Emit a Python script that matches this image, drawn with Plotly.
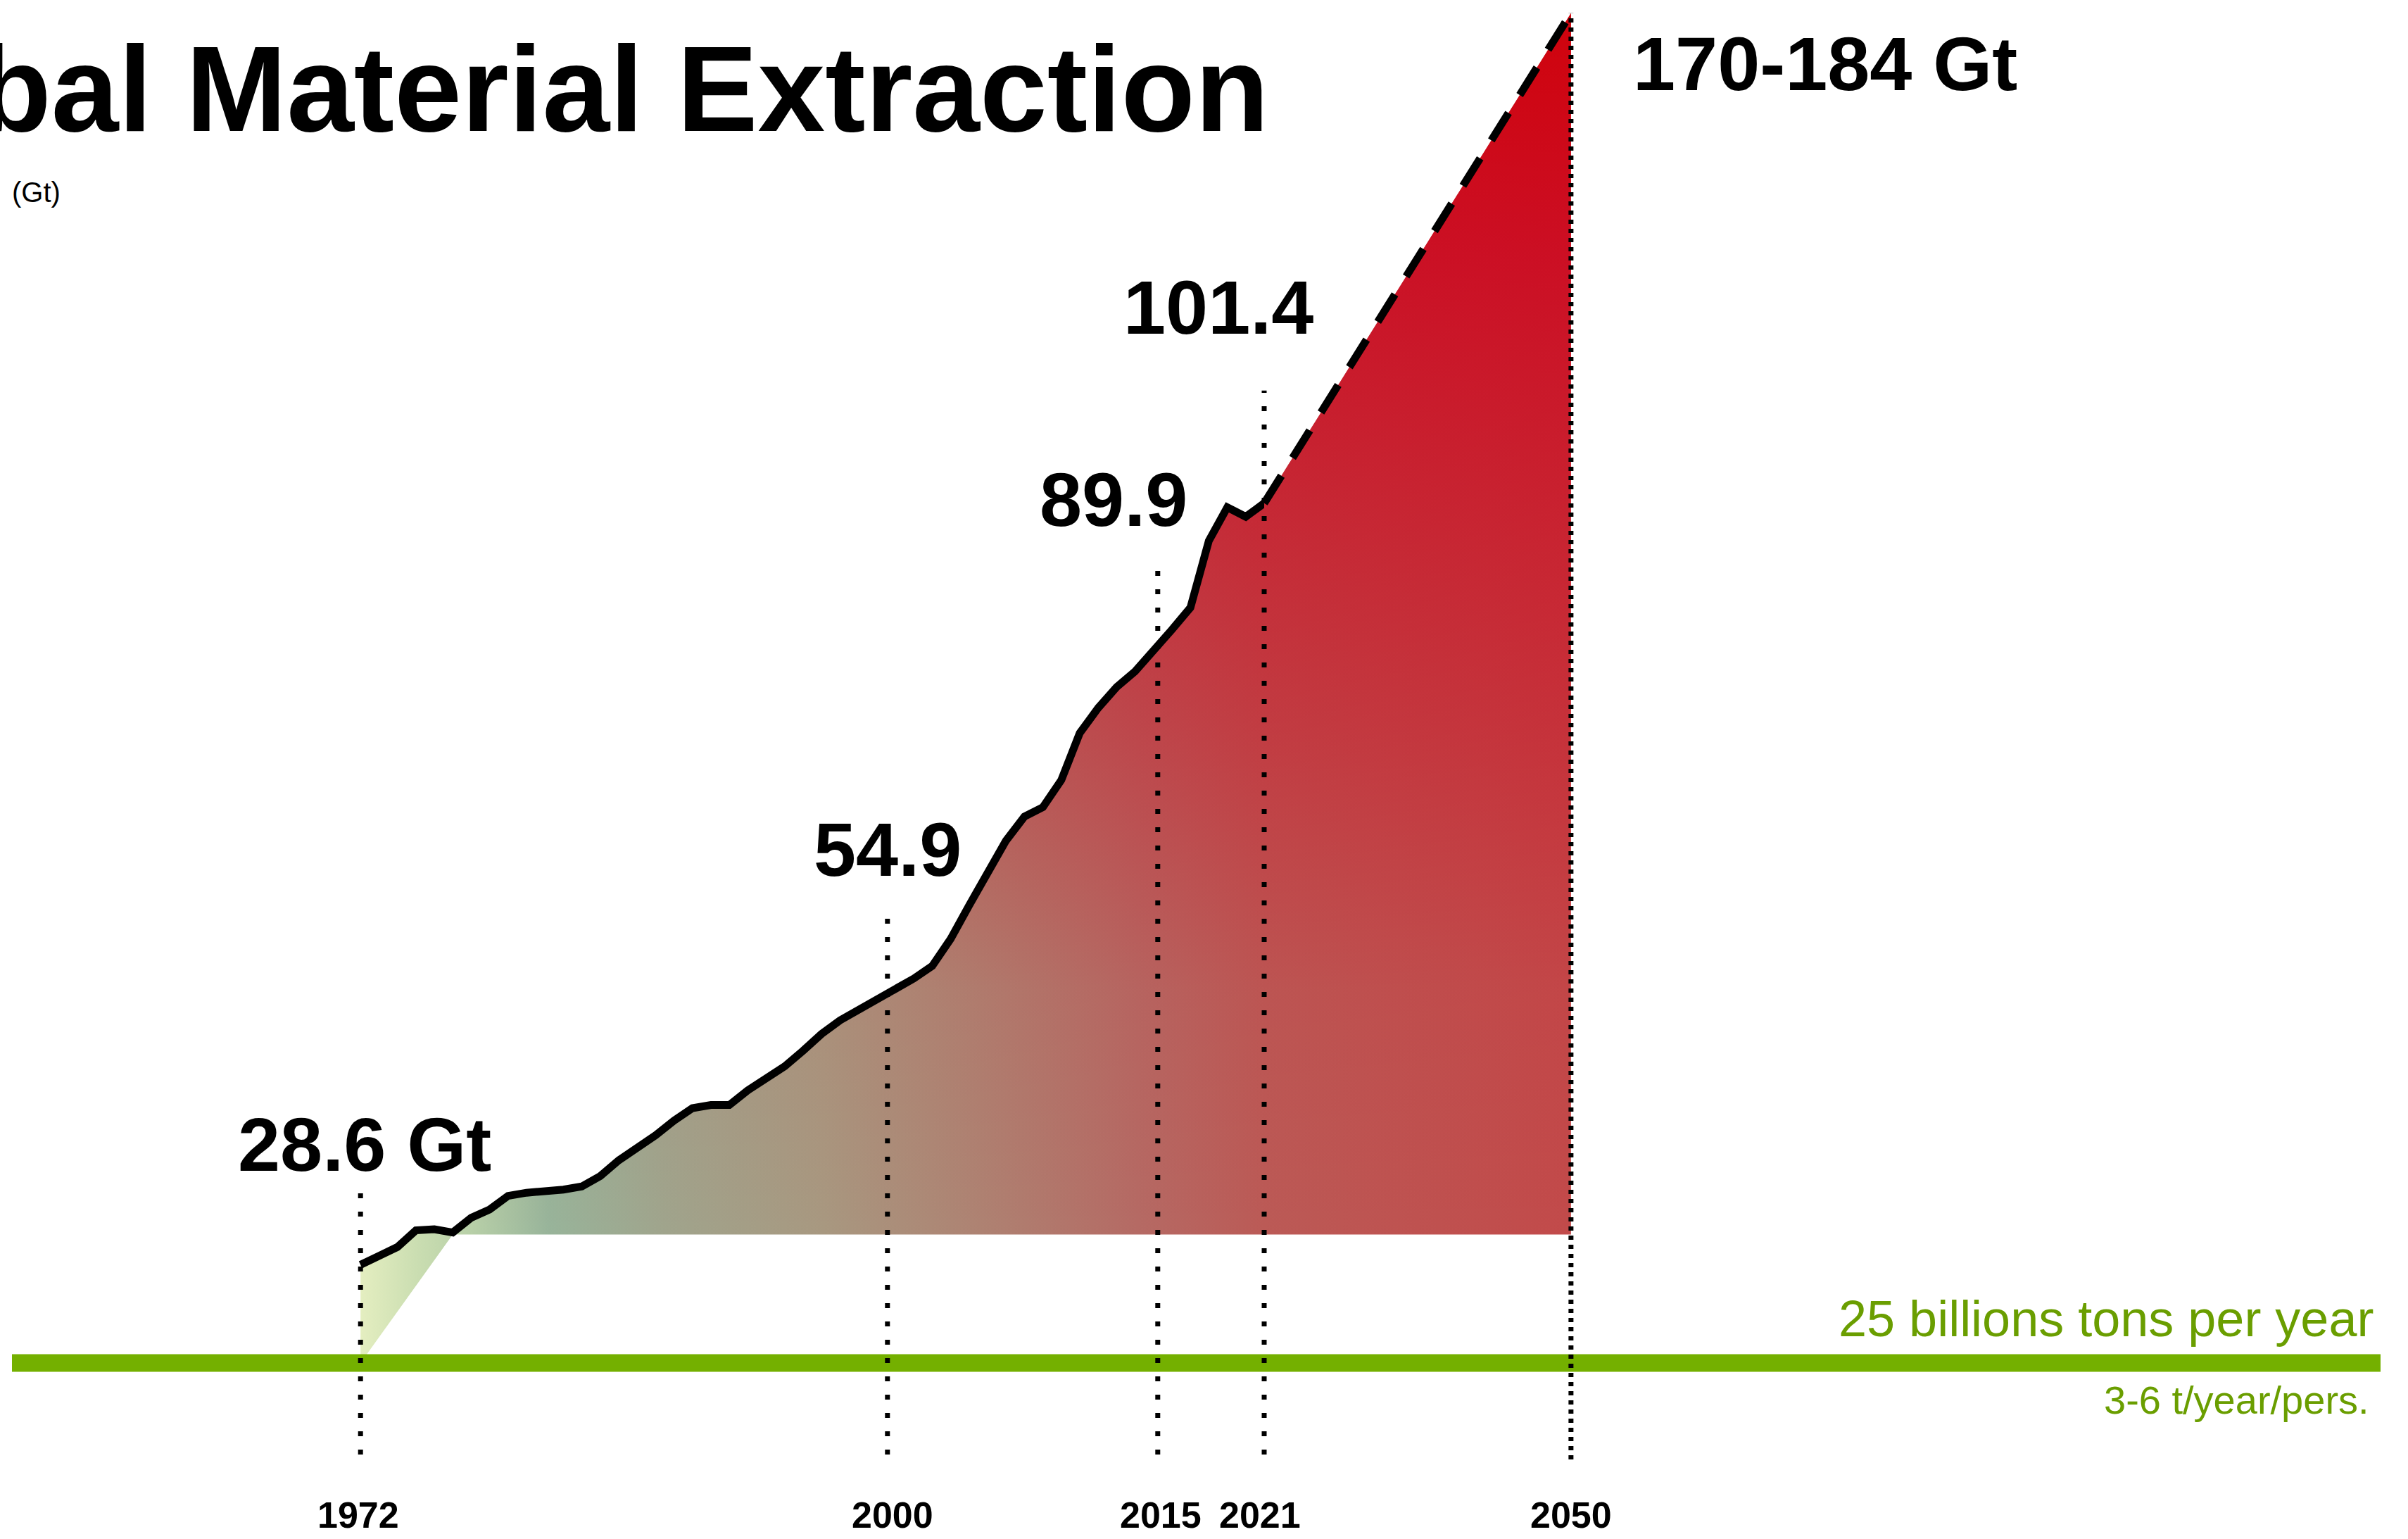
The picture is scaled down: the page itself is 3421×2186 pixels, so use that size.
import plotly.graph_objects as go

# ---------------- data ----------------
YEARS = list(range(1972, 2022))
EXTRACTION_GT = [28.6, 29.4, 30.3, 31.9, 32.0, 31.7, 33.1, 33.9, 35.2, 35.5,
                 35.6, 35.8, 36.1, 37.1, 38.6, 39.7, 41.0, 42.4, 43.6, 43.9,
                 43.9, 45.3, 46.5, 47.6, 49.1, 50.7, 52.0, 53.0, 53.9, 55.0,
                 56.0, 57.2, 59.8, 63.0, 66.1, 69.2, 71.5, 72.4, 75.0, 79.5,
                 81.9, 83.9, 85.4, 87.3, 89.4, 91.5, 97.9, 101.1, 100.2, 101.5]
PROJECTION_YEARS = [2021, 2050]
PROJECTION_GT = [101.5, 148.4]          # drawn end point of the projection
LABEL_YEARS = [1972, 2000, 2015, 2021]
LABEL_TEXTS = ["28.6 Gt", "54.9", "89.9", "101.4"]
PROJECTION_LABEL = "170-184 Gt"
TICK_YEARS = [1972, 2000, 2015, 2021, 2050]
TICK_LABELS = ["1972", "2000", "2015", "2021", "2050"]
LIMIT_GT = 19.2                          # drawn level of the sustainable band
LIMIT_TEXT = "25 billions tons per year"
LIMIT_SUBTEXT = "3-6 t/year/pers."
FILL_FLOOR_GT = 31.5
FILL_FLOOR_FROM_YEAR = 1977
TITLE = "Global Material Extraction"
UNIT = "(Gt)"

# ---------------- layout constants ----------------
W, H = 3421, 2186
Y_RANGE = [2.358, 149.66]
PX_PER_GT = H / (Y_RANGE[1] - Y_RANGE[0])
SEAM_YEAR = 2021
SEAM_PX = 1796
HIST_PX_PER_YEAR = 26.2
PROJ_PX_PER_YEAR = 15.03
X1_DOM_PX = (0, 1900)
X2_DOM_PX = (1700, W)
X1_RANGE = [SEAM_YEAR - (SEAM_PX - X1_DOM_PX[0]) / HIST_PX_PER_YEAR,
            SEAM_YEAR + (X1_DOM_PX[1] - SEAM_PX) / HIST_PX_PER_YEAR]
X2_RANGE = [SEAM_YEAR - (SEAM_PX - X2_DOM_PX[0]) / PROJ_PX_PER_YEAR,
            SEAM_YEAR + (X2_DOM_PX[1] - SEAM_PX) / PROJ_PX_PER_YEAR]

FONT = "Liberation Sans, Arial, Helvetica, sans-serif"
GREEN = "#74b000"
GREEN_TEXT = "#6a9e00"

LEFT_SCALE = [[0.0, "#e4eec0"], [0.0685, "#c8dcb0"], [0.121, "#b8d0a8"],
              [0.208, "#98b49a"], [0.338, "#a0a48c"], [0.512, "#a89880"],
              [0.686, "#ae8272"], [0.86, "#b56a64"], [1.0, "#bb5a56"]]
RIGHT_SCALE = [[0.0, "#bb5a56"], [1.0, "#c24a4a"]]
RED_OVERLAY = [[0.0, "rgba(206,0,26,0)"], [0.2, "rgba(206,0,26,0.06)"],
               [0.4, "rgba(206,0,26,0.32)"], [0.6, "rgba(206,0,26,0.56)"],
               [0.8, "rgba(206,0,26,0.8)"], [1.0, "rgba(208,0,10,0.97)"]]

# small horizontal nudges (px) of the drop lines / year labels, as drawn
DROP_X_NUDGE_PX = [0, 15, 6, 0]
TICK_X_NUDGE_PX = [-3, 22, 10, -6, 0]


def xref_for(year):
    return "x" if year <= SEAM_YEAR else "x2"


def value_at(year):
    if year in YEARS:
        return EXTRACTION_GT[YEARS.index(year)]
    return PROJECTION_GT[PROJECTION_YEARS.index(year)]


fig = go.Figure()

# historical area (with the small wedge down to the band at the start)
hist_x = YEARS + [SEAM_YEAR, FILL_FLOOR_FROM_YEAR, YEARS[0], YEARS[0]]
hist_y = EXTRACTION_GT + [FILL_FLOOR_GT, FILL_FLOOR_GT, LIMIT_GT, EXTRACTION_GT[0]]
proj_x = PROJECTION_YEARS + [PROJECTION_YEARS[-1], PROJECTION_YEARS[0], PROJECTION_YEARS[0]]
proj_y = PROJECTION_GT + [FILL_FLOOR_GT, FILL_FLOOR_GT, PROJECTION_GT[0]]

common = dict(mode="lines", fill="toself", hoverinfo="skip", showlegend=False,
              line=dict(width=0, color="rgba(0,0,0,0)"))

fig.add_trace(go.Scatter(x=hist_x, y=hist_y, xaxis="x", yaxis="y",
                         fillgradient=dict(type="horizontal", colorscale=LEFT_SCALE,
                                           start=YEARS[0], stop=SEAM_YEAR), **common))
fig.add_trace(go.Scatter(x=hist_x, y=hist_y, xaxis="x", yaxis="y",
                         fillgradient=dict(type="vertical", colorscale=RED_OVERLAY,
                                           start=FILL_FLOOR_GT, stop=PROJECTION_GT[-1]), **common))
fig.add_trace(go.Scatter(x=proj_x, y=proj_y, xaxis="x2", yaxis="y",
                         fillgradient=dict(type="horizontal", colorscale=RIGHT_SCALE,
                                           start=PROJECTION_YEARS[0], stop=PROJECTION_YEARS[-1]), **common))
fig.add_trace(go.Scatter(x=proj_x, y=proj_y, xaxis="x2", yaxis="y",
                         fillgradient=dict(type="vertical", colorscale=RED_OVERLAY,
                                           start=FILL_FLOOR_GT, stop=PROJECTION_GT[-1]), **common))

# the black lines
fig.add_trace(go.Scatter(x=YEARS, y=EXTRACTION_GT, xaxis="x", yaxis="y", mode="lines",
                         line=dict(color="black", width=11), hoverinfo="skip", showlegend=False))
fig.add_trace(go.Scatter(x=PROJECTION_YEARS, y=PROJECTION_GT, xaxis="x2", yaxis="y", mode="lines",
                         line=dict(color="black", width=11, dash="46px,30px"),
                         hoverinfo="skip", showlegend=False))

shapes = []
# sustainable-level band
shapes.append(dict(type="line", xref="paper", yref="y", x0=17 / W, x1=3382 / W,
                   y0=LIMIT_GT, y1=LIMIT_GT, line=dict(color=GREEN, width=25), layer="above"))
# dotted drop lines
DROP_TOP_GAPS_PX = [110, 124, 128, 160]
drop_bottom = Y_RANGE[0] + (H - 2066) / PX_PER_GT
for yr, gap, nudge in zip(LABEL_YEARS, DROP_TOP_GAPS_PX, DROP_X_NUDGE_PX):
    shapes.append(dict(type="line", xref=xref_for(yr), yref="y",
                       xsizemode="pixel", xanchor=yr, x0=nudge, x1=nudge,
                       y0=drop_bottom, y1=value_at(yr) + gap / PX_PER_GT,
                       line=dict(color="black", width=7, dash="7px,19px"), layer="above"))
end_year = PROJECTION_YEARS[-1]
shapes.append(dict(type="line", xref="x2", yref="y", x0=end_year, x1=end_year,
                   y0=Y_RANGE[0] + (H - 2073) / PX_PER_GT, y1=PROJECTION_GT[-1],
                   line=dict(color="black", width=7, dash="6px,7px"), layer="above"))

annotations = []
LABEL_SHIFTS = [(6, 171), (15, 215), (-57, 216), (-65, 278)]
for yr, txt, (dx, dy) in zip(LABEL_YEARS, LABEL_TEXTS, LABEL_SHIFTS):
    annotations.append(dict(x=yr, y=value_at(yr), xref=xref_for(yr), yref="y", text=txt,
                            showarrow=False, xanchor="center", yanchor="middle",
                            xshift=dx, yshift=dy,
                            font=dict(family=FONT, size=108, color="black", weight="bold")))
annotations.append(dict(x=end_year, y=PROJECTION_GT[-1], xref="x2", yref="y",
                        text=PROJECTION_LABEL, showarrow=False, xanchor="left",
                        yanchor="middle", xshift=86, yshift=-72,
                        font=dict(family=FONT, size=108, color="black", weight="bold")))
for yr, txt, nudge in zip(TICK_YEARS, TICK_LABELS, TICK_X_NUDGE_PX):
    annotations.append(dict(x=yr, y=0, xref=xref_for(yr), yref="paper", text=txt,
                            showarrow=False, xanchor="center", yanchor="bottom",
                            xshift=nudge, yshift=3,
                            font=dict(family=FONT, size=52, color="black", weight="bold")))
annotations.append(dict(x=3374 / W, y=LIMIT_GT, xref="paper", yref="y", text=LIMIT_TEXT,
                        showarrow=False, xanchor="right", yanchor="middle", yshift=63,
                        font=dict(family=FONT, size=72, color=GREEN_TEXT)))
annotations.append(dict(x=3368 / W, y=LIMIT_GT, xref="paper", yref="y", text=LIMIT_SUBTEXT,
                        showarrow=False, xanchor="right", yanchor="middle", yshift=-52,
                        font=dict(family=FONT, size=56, color=GREEN_TEXT)))
annotations.append(dict(x=1805 / W, y=1 - 126 / H, xref="paper", yref="paper", text=TITLE,
                        showarrow=False, xanchor="right", yanchor="middle",
                        font=dict(family=FONT, size=172, color="black", weight="bold")))
annotations.append(dict(x=15 / W, y=1 - 273 / H, xref="paper", yref="paper", text=UNIT,
                        showarrow=False, xanchor="left", yanchor="middle",
                        font=dict(family=FONT, size=40, color="black")))

hidden = dict(visible=False, showgrid=False, zeroline=False, fixedrange=True)
fig.update_layout(
    width=W, height=H, autosize=False,
    margin=dict(l=0, r=0, t=0, b=0, pad=0),
    paper_bgcolor="white", plot_bgcolor="rgba(0,0,0,0)",
    xaxis=dict(domain=[X1_DOM_PX[0] / W, X1_DOM_PX[1] / W], range=X1_RANGE, anchor="y", **hidden),
    xaxis2=dict(domain=[X2_DOM_PX[0] / W, X2_DOM_PX[1] / W], range=X2_RANGE, anchor="y", **hidden),
    yaxis=dict(domain=[0, 1], range=Y_RANGE, anchor="x", **hidden),
    shapes=shapes, annotations=annotations, showlegend=False, hovermode=False,
)

fig.write_html("out.html", config={"displayModeBar": False},
               post_script="document.body.style.margin='0';")
